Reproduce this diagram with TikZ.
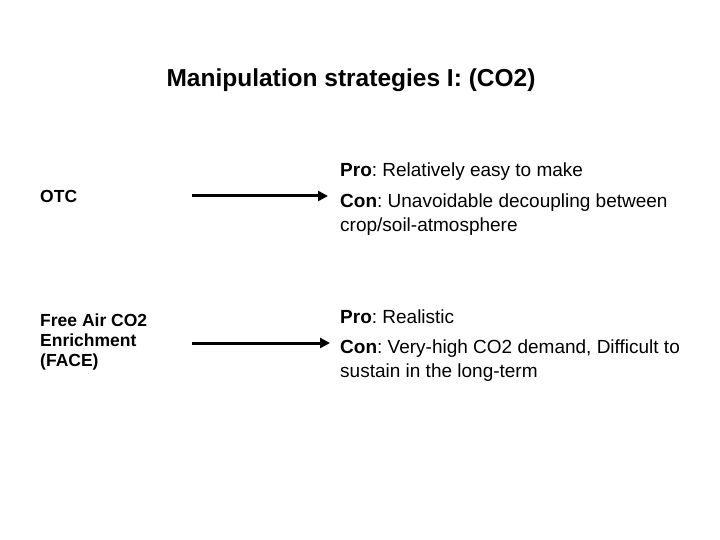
\documentclass[tikz,border=0pt]{standalone}
\usepackage{fontspec}
\setmainfont{Liberation Sans}
\usetikzlibrary{arrows.meta}
\frenchspacing
\begin{document}
\begin{tikzpicture}[x=1pt,y=-1pt,
 body/.style={anchor=west,font=\fontsize{19}{24}\selectfont,align=left,inner sep=0},
 lbl/.style={anchor=west,font=\fontsize{17.5}{20}\selectfont\bfseries,align=left,inner sep=0},
 arr/.style={line width=3pt,-{Triangle[length=10pt,width=10pt]}}]
\useasboundingbox (0,0) rectangle (720,540);
\fill[white] (0,0) rectangle (720,540);
\node[font=\fontsize{24.5}{28}\selectfont\bfseries] (title) at (351,80) {Manipulation strategies I: (CO2)};
\node[body] (p1) at (340,172) {\textbf{Pro}: Relatively easy to make};
\node[body,anchor=north west] (c1) at (340,194) {\textbf{Con}: Unavoidable decoupling between\\crop/soil-atmosphere};
\node[lbl] (otc) at (40,196) {OTC};
\coordinate (a1s) at (192,196);
\coordinate (a1e) at (328,196);
\draw[arr] (a1s) -- (a1e);
\node[lbl,anchor=north west] (face) at (40,314) {Free Air CO2\\Enrichment\\(FACE)};
\coordinate (a2s) at (192,343);
\coordinate (a2e) at (330,343);
\draw[arr] (a2s) -- (a2e);
\node[body] (p2) at (340,317) {\textbf{Pro}: Realistic};
\node[body,anchor=north west] (c2) at (340,340) {\textbf{Con}: Very-high CO2 demand, Difficult to\\sustain in the long-term};
\end{tikzpicture}
\end{document}
